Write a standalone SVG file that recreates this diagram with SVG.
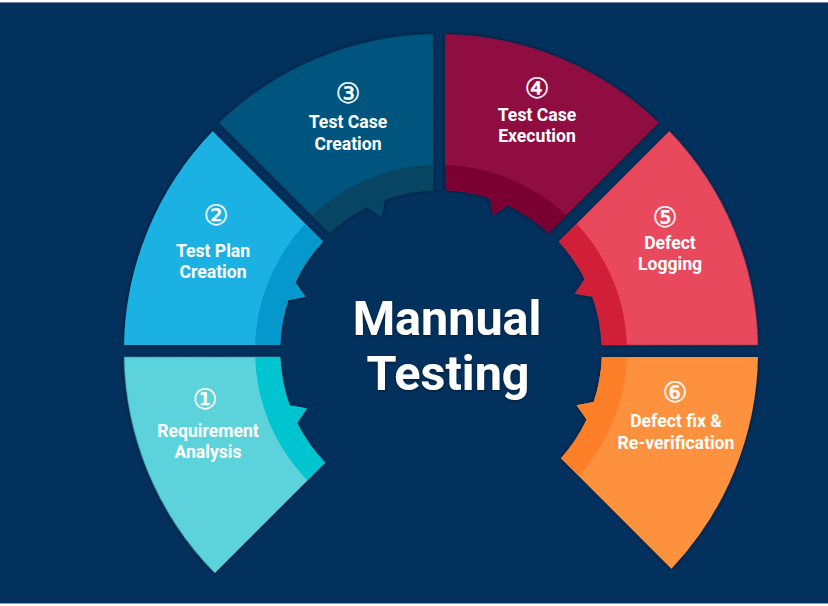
<svg xmlns="http://www.w3.org/2000/svg" width="828" height="606" viewBox="0 0 828 606">
<style>
.lbl{font-family:Roboto,"Liberation Sans",sans-serif;font-weight:700;font-size:17.6px;fill:#ffffff;text-anchor:middle}
.num{font-family:"DejaVu Sans","Noto Sans CJK SC",sans-serif;font-size:28px;fill:#ffffff;stroke:#ffffff;stroke-width:0.4px;text-anchor:middle}
.title{font-family:Roboto,"Liberation Sans",sans-serif;font-weight:700;font-size:48.5px;fill:#ffffff;text-anchor:middle}
</style>
<defs>
<filter id="sh" x="-20%" y="-20%" width="140%" height="140%">
<feDropShadow dx="0" dy="0" stdDeviation="2.5" flood-color="#000814" flood-opacity="0.55"/>
</filter>
<filter id="tsh" x="-10%" y="-20%" width="120%" height="140%">
<feDropShadow dx="0" dy="1" stdDeviation="1.5" flood-color="#000000" flood-opacity="0.5"/>
</filter>
<path id="segA" d="M316.94 6 A317 317 0 0 1 228.35 219.87 L118.01 109.53 A161 161 0 0 0 145.68 68.55 L135.56 54.22 L152.68 51.09 A161 161 0 0 0 160.89 6 Z"/>
<path id="seg1p" d="M316.99 3 A317 317 0 0 1 228.35 219.87 L118.01 109.53 A161 161 0 0 0 145.68 68.55 L135.56 54.22 L152.68 51.09 A161 161 0 0 0 160.97 3 Z"/>
<path id="seg6p" d="M316.94 6 A317 317 0 0 1 230.42 217.70 L120.03 107.31 A161 161 0 0 0 145.68 68.55 L135.56 54.22 L152.68 51.09 A161 161 0 0 0 160.89 6 Z"/>
<clipPath id="clipA"><use href="#segA"/></clipPath>
<clipPath id="clip1"><use href="#seg1p"/></clipPath>
<clipPath id="clip6"><use href="#seg6p"/></clipPath>
</defs>
<rect x="0" y="0" width="828" height="606" fill="#ffffff"/>
<rect x="0" y="2" width="828" height="602" fill="#03315e"/>
<rect x="0" y="2" width="828" height="1" fill="#6f879f"/>
<rect x="0" y="603" width="828" height="1" fill="#8da0b5"/>

<g id="step1">
<g transform="translate(441 351) rotate(135)">
<use href="#seg1p" fill="#5bd2da" filter="url(#sh)"/>
<circle r="186" fill="#00c4d0" clip-path="url(#clip1)"/>
</g>
<text class="num" x="205" y="409">①</text>
<text class="lbl" x="208" y="437">Requirement</text>
<text class="lbl" x="208" y="458">Analysis</text>
</g>

<g id="step2">
<g transform="translate(441 351) rotate(180)">
<use href="#segA" fill="#1cb1e3" filter="url(#sh)"/>
<circle r="186" fill="#0598cd" clip-path="url(#clipA)"/>
</g>
<text class="num" x="216" y="225">②</text>
<text class="lbl" x="213" y="257">Test Plan</text>
<text class="lbl" x="213" y="278">Creation</text>
</g>

<g id="step3">
<g transform="translate(439 351) rotate(225)">
<use href="#segA" fill="#02557f" filter="url(#sh)"/>
<circle r="186" fill="#074563" clip-path="url(#clipA)"/>
</g>
<text class="num" x="348" y="103">③</text>
<text class="lbl" x="348" y="128">Test Case</text>
<text class="lbl" x="348" y="150">Creation</text>
</g>

<g id="step4">
<g transform="translate(439 351) rotate(270)">
<use href="#segA" fill="#8f0e3f" filter="url(#sh)"/>
<circle r="186" fill="#7b0032" clip-path="url(#clipA)"/>
</g>
<text class="num" x="537" y="98">④</text>
<text class="lbl" x="537" y="121">Test Case</text>
<text class="lbl" x="537" y="142">Execution</text>
</g>

<g id="step5">
<g transform="translate(441 351) rotate(315)">
<use href="#segA" fill="#e9495d" filter="url(#sh)"/>
<circle r="186" fill="#d01f37" clip-path="url(#clipA)"/>
</g>
<text class="num" x="665" y="227">⑤</text>
<text class="lbl" x="670" y="249">Defect</text>
<text class="lbl" x="670" y="270">Logging</text>
</g>

<g id="step6">
<g transform="translate(441 351)">
<use href="#seg6p" fill="#fe913d" filter="url(#sh)"/>
<circle r="186" fill="#fd7f27" clip-path="url(#clip6)"/>
</g>
<text class="num" x="675" y="402">⑥</text>
<text class="lbl" x="676" y="427">Defect fix &amp;</text>
<text class="lbl" x="676" y="449">Re-verification</text>
</g>

<g id="center" filter="url(#tsh)">
<text class="title" x="447" y="335">Mannual</text>
<text class="title" x="448" y="390">Testing</text>
</g>
<g id="connectors"/>
</svg>
